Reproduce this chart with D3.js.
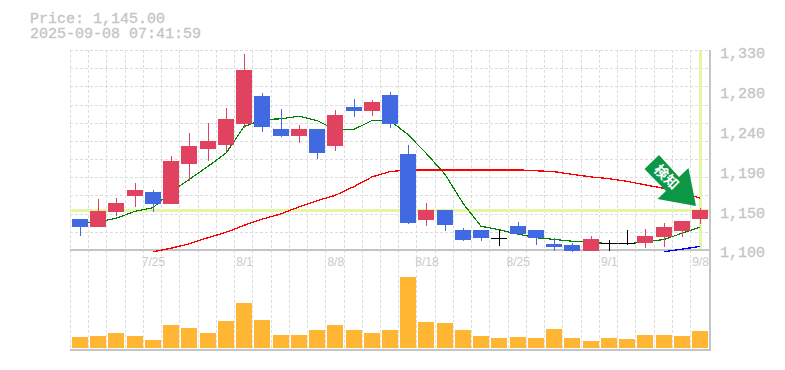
<!DOCTYPE html>
<html>
<head>
<meta charset="utf-8">
<script src="https://cdn.jsdelivr.net/npm/d3@7"></script>
<style>
html, body { margin: 0; padding: 0; background: #fff; }
text { font-family: "Liberation Mono", monospace; }
</style>
</head>
<body>
<div id="chart"></div>
<script>
const dates = ['7/18','7/22','7/23','7/24','7/25','7/28','7/29','7/30','7/31','8/1','8/4','8/5','8/6','8/7','8/8','8/12','8/13','8/14','8/15','8/18','8/19','8/20','8/21','8/22','8/25','8/26','8/27','8/28','8/29','9/1','9/2','9/3','9/4','9/5','9/8'];
const opens = [1135,1126,1143,1161,1166,1152,1198,1215,1219,1243,1275,1237,1229,1237,1218,1262,1258,1276,1209,1134,1145,1123,1123,1114,1127,1123,1107,1106,1099,1108,1108,1108,1115,1122,1135];
const closes = [1126,1144,1153,1168,1152,1201,1218,1224,1249,1304,1240,1229,1237,1210,1253,1258,1268,1243,1131,1145,1128,1111,1114,1114,1118,1114,1103,1099,1112,1108,1108,1116,1126,1133,1145];
const highs = [1135,1158,1159,1176,1168,1207,1233,1244,1261,1323,1278,1260,1242,1237,1259,1271,1270,1279,1219,1153,1145,1125,1123,1123,1132,1123,1114,1108,1116,1111,1123,1124,1131,1133,1148];
const lows = [1116,1126,1139,1149,1143,1152,1178,1201,1211,1239,1234,1228,1222,1203,1212,1251,1252,1239,1130,1127,1122,1110,1110,1105,1118,1106,1099,1098,1099,1099,1106,1102,1103,1115,1130];
const volumes = [11,12,15,12,8,23,20,15,27,45,28,13,13,18,23,18,15,18,71,26,25,18,12,10,11,10,19,10,7,10,9,13,13,12,17];
const maShort = [1130,1132,1136,1144,1148,1166,1180,1195,1210,1240,1248,1249,1252,1247,1237,1237,1247,1247,1231,1210,1186,1153,1127,1123,1118,1114,1112,1110,1109,1107,1107,1109,1112,1119,1126];
const maMid = [null,null,null,null,1098,1102,1107,1114,1120,1128,1135,1141,1149,1156,1162,1172,1183,1189,1191,1191,1191,1191,1191,1191,1191,1190,1189,1186,1183,1181,1178,1174,1170,1165,1159];
const maLong = [null,null,null,null,null,null,null,null,null,null,null,null,null,null,null,null,null,null,null,null,null,null,null,null,null,null,null,null,null,null,null,null,1098,1101,1104];
const priceTicks = [1326,1280.8,1235.6,1190.4,1145.2,1100];
const dateTicks = ['7/25','8/1','8/8','8/18','8/25','9/1','9/8'];
const lastPrice = 1145;
const stamp = '2025-09-08 07:41:59';
const arrowLabel = '検知';

const width = 785;
const height = 370;
const plotLeft = 70, plotRight = 710, plotTop = 50, plotMid = 250, plotBottom = 350;
const upColor = '#e0425f', downColor = '#4169e1', dojiColor = '#000000';
const gray = '#c4c4c4';

const svg = d3.select('#chart').append('svg')
    .attr('width', width)
    .attr('height', height)
    .style('display', 'block');

const xScale = d3.scalePoint().domain(dates).range([80, 700]);
const yScale = d3.scaleLinear().domain([1100, 1326]).range([plotMid, plotTop + 1]);
const volScale = d3.scaleLinear().domain([0, 71]).range([348, 277]);
const cx = d => Math.round(xScale(d));

// dashed grid
const grid = svg.append('g')
    .attr('stroke', '#dcdcdc')
    .attr('stroke-dasharray', '3,2')
    .attr('shape-rendering', 'crispEdges');
dates.forEach(d => {
    grid.append('line')
        .attr('x1', cx(d) - 9.5).attr('x2', cx(d) - 9.5)
        .attr('y1', plotTop).attr('y2', plotBottom);
});
d3.range(0, 11).forEach(i => {
    const y = Math.round(plotTop + i * (plotMid - plotTop) / 11) + 0.5;
    grid.append('line')
        .attr('x1', plotLeft).attr('x2', plotRight)
        .attr('y1', y).attr('y2', y);
});

// crosshair on the last close
const lastX = cx(dates[dates.length - 1]);
const cross = svg.append('g').attr('stroke', '#e4f5a5').attr('stroke-width', 3).attr('shape-rendering', 'crispEdges');
cross.append('line')
    .attr('x1', plotLeft).attr('x2', plotRight)
    .attr('y1', Math.round(yScale(lastPrice)) + 0.5).attr('y2', Math.round(yScale(lastPrice)) + 0.5);
cross.append('line')
    .attr('x1', lastX + 0.5).attr('x2', lastX + 0.5)
    .attr('y1', plotTop).attr('y2', plotMid);

// frame
const frame = svg.append('g').attr('stroke', gray).attr('stroke-width', 2).attr('shape-rendering', 'crispEdges');
frame.append('line').attr('x1', plotLeft).attr('x2', plotRight + 1).attr('y1', plotMid).attr('y2', plotMid);
frame.append('line').attr('x1', plotLeft).attr('x2', plotRight + 1).attr('y1', plotBottom).attr('y2', plotBottom);
frame.append('line').attr('x1', plotRight).attr('x2', plotRight).attr('y1', plotTop).attr('y2', plotBottom + 1);

// moving averages sit behind the candles
const line = d3.line()
    .defined(d => d !== null)
    .x((d, i) => cx(dates[i]))
    .y(d => yScale(d));
[[maShort, '#008000', 1.2], [maMid, '#ff0000', 1.3], [maLong, '#0000ff', 1.3]].forEach(([values, color, w]) => {
    svg.append('path')
        .attr('fill', 'none')
        .attr('stroke', color)
        .attr('stroke-width', w)
        .attr('shape-rendering', 'crispEdges')
        .attr('d', line(values));
});

// candles
const candleColor = i => opens[i] === closes[i] ? dojiColor : (closes[i] > opens[i] ? upColor : downColor);
const candles = svg.append('g').attr('shape-rendering', 'crispEdges');
dates.forEach((d, i) => {
    const x = cx(d);
    candles.append('line')
        .attr('x1', x + 0.5).attr('x2', x + 0.5)
        .attr('y1', yScale(highs[i])).attr('y2', yScale(lows[i]))
        .attr('stroke', candleColor(i));
    const yTop = yScale(Math.max(opens[i], closes[i]));
    const yBot = yScale(Math.min(opens[i], closes[i]));
    candles.append('rect')
        .attr('x', x - 8)
        .attr('width', 16)
        .attr('y', yTop)
        .attr('height', Math.max(yBot - yTop, 1))
        .attr('fill', candleColor(i));
});

// volume
svg.append('g').attr('shape-rendering', 'crispEdges')
    .selectAll('rect').data(volumes).join('rect')
    .attr('x', (d, i) => cx(dates[i]) - 8)
    .attr('width', 16)
    .attr('y', d => volScale(d))
    .attr('height', d => volScale(0) - volScale(d))
    .attr('fill', '#ffb733');

// axes
const xAxis = d3.axisBottom(xScale).tickValues(dateTicks).tickSize(0).tickPadding(6);
const xg = svg.append('g').attr('transform', `translate(0, ${plotMid + 1})`).call(xAxis);
xg.select('.domain').remove();
xg.selectAll('text')
    .attr('fill', '#cacaca')
    .style('font-family', '"Liberation Sans", sans-serif')
    .style('font-size', '12px');

const yAxis = d3.axisRight(yScale)
    .tickValues(priceTicks)
    .tickSize(0)
    .tickPadding(10)
    .tickFormat(d => d3.format(',')(Math.round(d / 10) * 10));
const yg = svg.append('g').attr('transform', `translate(${plotRight}, 2)`).call(yAxis);
yg.select('.domain').remove();
yg.selectAll('text')
    .attr('fill', gray)
    .attr('stroke', gray)
    .attr('stroke-width', 0.3)
    .style('font-size', '15px');

// header
[[`Price: ${d3.format(',.2f')(lastPrice)}`, 23], [stamp, 38]].forEach(([label, y]) => {
    svg.append('text')
        .attr('x', 30).attr('y', y)
        .attr('fill', gray)
        .attr('stroke', gray)
        .attr('stroke-width', 0.3)
        .style('font-size', '15px')
        .text(label);
});

// signal arrow pointing at the last candle
const tipX = lastX - 4, tipY = yScale(lastPrice) - 4.5;
const arrow = svg.append('g').attr('transform', `translate(${tipX}, ${tipY})`);
arrow.append('path')
    .attr('fill', '#0b9746')
    .attr('d', 'M-37,-51 L-17,-29 L-7.5,-38 L0,0 L-38.5,-7 L-30,-15 L-51.5,-37 Z');
arrow.append('text')
    .attr('transform', 'translate(-29.5,-29) rotate(45)')
    .attr('text-anchor', 'middle')
    .attr('dy', '0.36em')
    .attr('fill', '#fff')
    .style('font-family', '"Noto Sans CJK JP", sans-serif')
    .style('font-weight', 'bold')
    .style('font-size', '14px')
    .text(arrowLabel);
</script>
</body>
</html>
